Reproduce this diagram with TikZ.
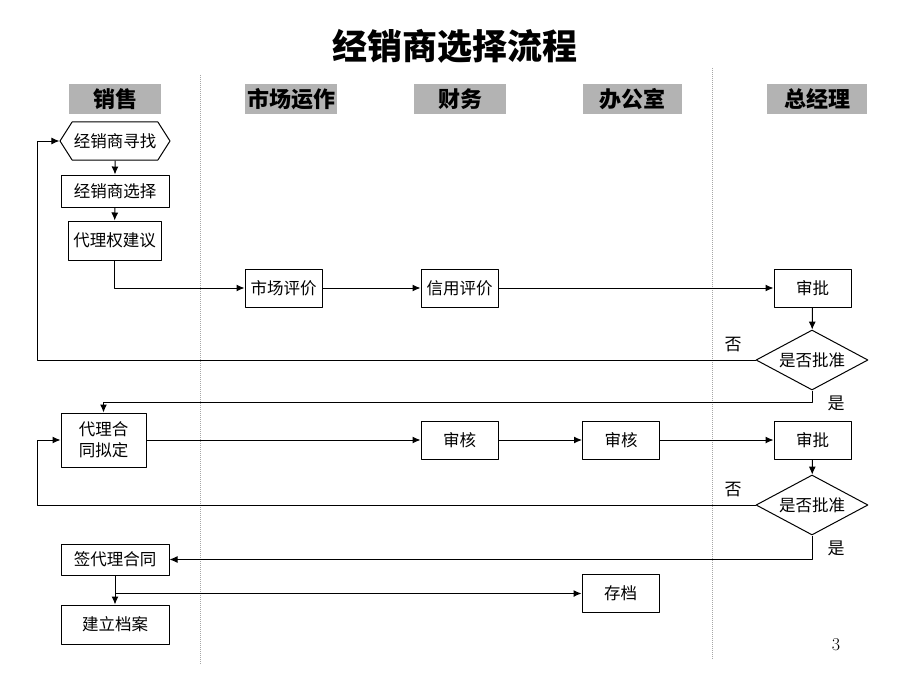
\documentclass[tikz,border=0pt]{standalone}
\usepackage{fontspec}
\newfontfamily\cjk{Noto Sans CJK SC}
\usetikzlibrary{shapes.geometric,shapes.symbols,arrows.meta}
\definecolor{hdrgray}{RGB}{179,179,179}
\tikzset{
  box/.style={draw, line width=1pt, inner sep=0pt, minimum width=77, minimum height=38,
    font=\cjk\fontsize{16.5}{21}\selectfont},
  hexa/.style={box, shape=signal, signal to=west and east, signal pointer angle=115,
    minimum width=110},
  dec/.style={box, shape=diamond, aspect=1.87, minimum width=112, minimum height=60},
  hdr/.style={fill=hdrgray, inner sep=0pt, minimum height=30,
    font=\cjk\bfseries\fontsize{22}{26}\selectfont},
  lbl/.style={font=\cjk\fontsize{17}{20}\selectfont},
  lane/.style={gray!70, line width=1pt, densely dotted},
  flow/.style={line width=1pt, -{Latex[length=8pt,width=7pt]}},
}
\begin{document}
\begin{tikzpicture}[x=1pt, y=-1pt, line join=round]
  \useasboundingbox (0,0) rectangle (920,690);
  % swim lanes
  \draw[lane] (200,75) -- (200,665);
  \draw[lane] (712,68) -- (712,660);
  % title
  \node[font=\cjk\bfseries\fontsize{35}{40}\selectfont] (title) at (455,46) {经销商选择流程};
  % lane heads
  \node[hdr, minimum width=92] (hsale) at (115,99) {销售};
  \node[hdr, minimum width=92] (hmkt) at (291,99) {市场运作};
  \node[hdr, minimum width=92] (hfin) at (460,99) {财务};
  \node[hdr, minimum width=99] (hoff) at (632,99) {办公室};
  \node[hdr, minimum width=100] (hgm) at (817,99) {总经理};
  % approval of dealer
  \node[hexa, minimum height=38] (find) at (115,141) {经销商寻找};
  \node[box, minimum width=108, minimum height=32] (select) at (115,191) {经销商选择};
  \node[box, minimum width=93, minimum height=39] (propose) at (114.5,240.5) {代理权建议};
  \node[box] (mkt) at (283.5,288) {市场评价};
  \node[box] (credit) at (459.5,288) {信用评价};
  \node[box] (appr1) at (812.5,288) {审批};
  \node[dec] (ok1) at (812,360) {是否批准};
  % contract
  \node[box, minimum width=85, minimum height=54, align=center] (draft) at (103.5,440) {代理合\\同拟定};
  \node[box] (chk1) at (459.5,440) {审核};
  \node[box] (chk2) at (621,440) {审核};
  \node[box] (appr2) at (812.5,440) {审批};
  \node[dec] (ok2) at (812,505) {是否批准};
  \node[box, minimum width=108, minimum height=31] (sign) at (115,559.5) {签代理合同};
  \node[box, minimum width=108, minimum height=39] (file) at (115,624.5) {建立档案};
  \node[box] (store) at (620.5,593.5) {存档};
  % connectors
  \draw[flow] (find) -- (select);
  \draw[flow] (select) -- (propose);
  \draw[flow] (propose) |- (mkt);
  \draw[flow] (mkt) -- (credit);
  \draw[flow] (credit) -- (appr1);
  \draw[flow] (appr1) -- (ok1);
  \draw[flow] (ok1.west) -| ([xshift=-22pt]find.west) -- (find.west);
  \draw[flow] (ok1.south) -- ++(0,12) -| (draft.north);
  \draw[flow] (draft) -- (chk1);
  \draw[flow] (chk1) -- (chk2);
  \draw[flow] (chk2) -- (appr2);
  \draw[flow] (appr2) -- (ok2);
  \draw[flow] (ok2.west) -| ([xshift=-23pt]draft.west) -- (draft.west);
  \draw[flow] (ok2.south) |- (sign.east);
  \draw[flow] (sign) -- (file);
  \draw[flow] (sign.south) |- (store.west);
  % labels
  \node[lbl] (no1) at (733,345) {否};
  \node[lbl] (yes1) at (836,403) {是};
  \node[lbl] (no2) at (733,490) {否};
  \node[lbl] (yes2) at (836,548) {是};
  \node[font=\fontsize{18}{20}\selectfont] (page) at (836,645) {3};
\end{tikzpicture}
\end{document}
